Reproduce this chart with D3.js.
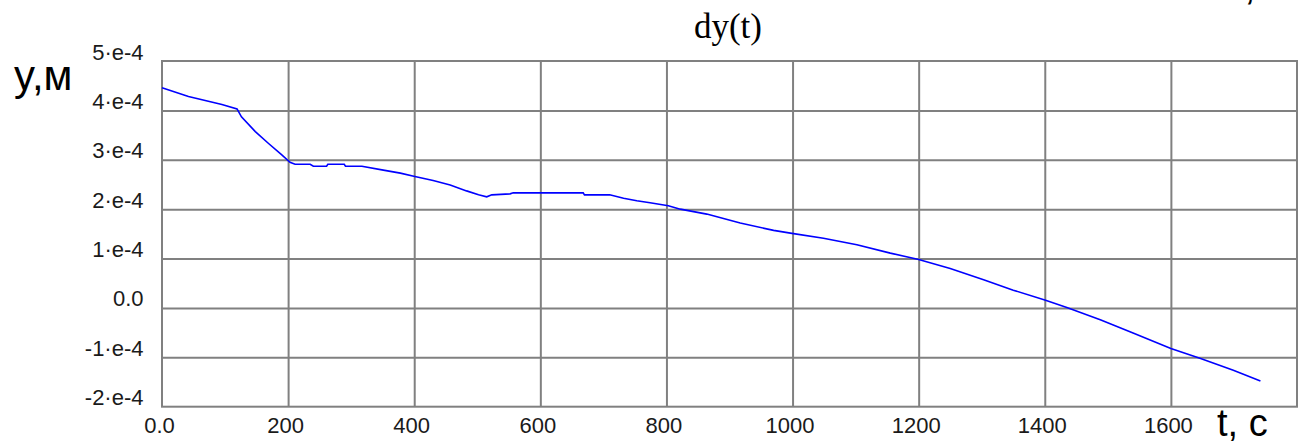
<!DOCTYPE html>
<html>
<head>
<meta charset="utf-8">
<script src="https://cdn.jsdelivr.net/npm/d3@7"></script>
<style>
  html, body { margin: 0; padding: 0; background: #fff; }
  svg { display: block; }
</style>
</head>
<body>
<svg id="chart" width="1303" height="444"></svg>
<script>
// Time, s
const tValues = [0, 42, 95, 119, 126, 148, 169, 190, 203, 211, 235, 240, 261, 263, 289, 291, 317, 351, 378, 401, 430, 457, 483, 502, 515, 523, 552, 557, 600, 668, 670, 710, 732, 753, 774, 803, 822, 864, 917, 970, 999, 1049, 1102, 1155, 1200, 1250, 1303, 1350, 1400, 1435, 1488, 1540, 1600, 1646, 1699, 1742];
// Displacement dy, units of 1e-4 m
const dyValues = [4.46, 4.28, 4.12, 4.03, 3.87, 3.57, 3.33, 3.10, 2.95, 2.91, 2.91, 2.87, 2.87, 2.91, 2.91, 2.87, 2.87, 2.79, 2.73, 2.66, 2.58, 2.49, 2.37, 2.29, 2.25, 2.29, 2.31, 2.33, 2.33, 2.33, 2.29, 2.29, 2.22, 2.17, 2.13, 2.07, 2.00, 1.90, 1.72, 1.57, 1.51, 1.41, 1.28, 1.11, 0.98, 0.80, 0.57, 0.36, 0.16, 0.01, -0.24, -0.51, -0.82, -1.02, -1.26, -1.48];

const xTicks = [0, 200, 400, 600, 800, 1000, 1200, 1400, 1600];
const xTickLabels = ["0.0", "200", "400", "600", "800", "1000", "1200", "1400", "1600"];
const yTicks = [-2e-4, -1e-4, 0, 1e-4, 2e-4, 3e-4, 4e-4, 5e-4];
const yTickLabels = ["-2·e-4", "-1·e-4", "0.0", "1·e-4", "2·e-4", "3·e-4", "4·e-4", "5·e-4"];

const svg = d3.select("#chart");
const plotLeft = 162, plotRight = 1297, plotTop = 61, plotBottom = 406.7;

const x = d3.scaleLinear().domain([0, 1800]).range([plotLeft, plotRight]);
const y = d3.scaleLinear().domain([-2e-4, 5e-4]).range([plotBottom, plotTop]);

const gridColor = "#808080";
const labelFont = "'Liberation Sans', Arial, sans-serif";

// Vertical grid lines
svg.append("g")
  .attr("transform", `translate(0,${plotBottom})`)
  .call(d3.axisBottom(x).tickValues(xTicks.slice(1)).tickSize(-(plotBottom - plotTop)).tickFormat(""))
  .call(g => g.select(".domain").remove())
  .call(g => g.selectAll(".tick line").attr("stroke", gridColor).attr("stroke-width", 2));

// Horizontal grid lines
svg.append("g")
  .attr("transform", `translate(${plotLeft},0)`)
  .call(d3.axisLeft(y).tickValues(yTicks.slice(1, -1)).tickSize(-(plotRight - plotLeft)).tickFormat(""))
  .call(g => g.select(".domain").remove())
  .call(g => g.selectAll(".tick line").attr("stroke", gridColor).attr("stroke-width", 2));

// Plot frame
svg.append("rect")
  .attr("x", plotLeft).attr("y", plotTop)
  .attr("width", plotRight - plotLeft).attr("height", plotBottom - plotTop)
  .attr("fill", "none").attr("stroke", gridColor).attr("stroke-width", 2);

// Y tick labels
svg.append("g").selectAll("text")
  .data(yTicks)
  .join("text")
  .attr("x", 143.5)
  .attr("y", d => y(d) - 1.5)
  .attr("text-anchor", "end")
  .attr("font-family", labelFont)
  .attr("font-size", 22)
  .attr("fill", "#1a1a1a")
  .text((d, i) => yTickLabels[i]);

// X tick labels
svg.append("g").selectAll("text")
  .data(xTicks)
  .join("text")
  .attr("x", d => x(d) - 2.5)
  .attr("y", 433)
  .attr("text-anchor", "middle")
  .attr("font-family", labelFont)
  .attr("font-size", 22)
  .attr("fill", "#1a1a1a")
  .text((d, i) => xTickLabels[i]);

// Data line
const points = tValues.map((t, i) => [t, dyValues[i] * 1e-4]);
svg.append("path")
  .datum(points)
  .attr("fill", "none")
  .attr("stroke", "#0000ff")
  .attr("stroke-width", 1.6)
  .attr("d", d3.line().x(d => x(d[0])).y(d => y(d[1])));

// Title
svg.append("text")
  .attr("x", 728).attr("y", 38)
  .attr("text-anchor", "middle")
  .attr("font-family", "'Liberation Serif', 'Times New Roman', serif")
  .attr("font-size", 35)
  .attr("fill", "#000")
  .text("dy(t)");

// Axis names
svg.append("text")
  .attr("x", 14).attr("y", 90)
  .attr("font-family", labelFont)
  .attr("font-size", 42)
  .attr("fill", "#000")
  .text("y,м");

svg.append("text")
  .attr("x", 1217).attr("y", 436)
  .attr("font-family", labelFont)
  .attr("font-size", 38)
  .attr("fill", "#000")
  .text("t, c");

svg.append("text")
  .attr("x", 1244).attr("y", -1)
  .attr("font-family", labelFont)
  .attr("font-size", 42)
  .attr("fill", "#000")
  .text(",");
</script>
</body>
</html>
